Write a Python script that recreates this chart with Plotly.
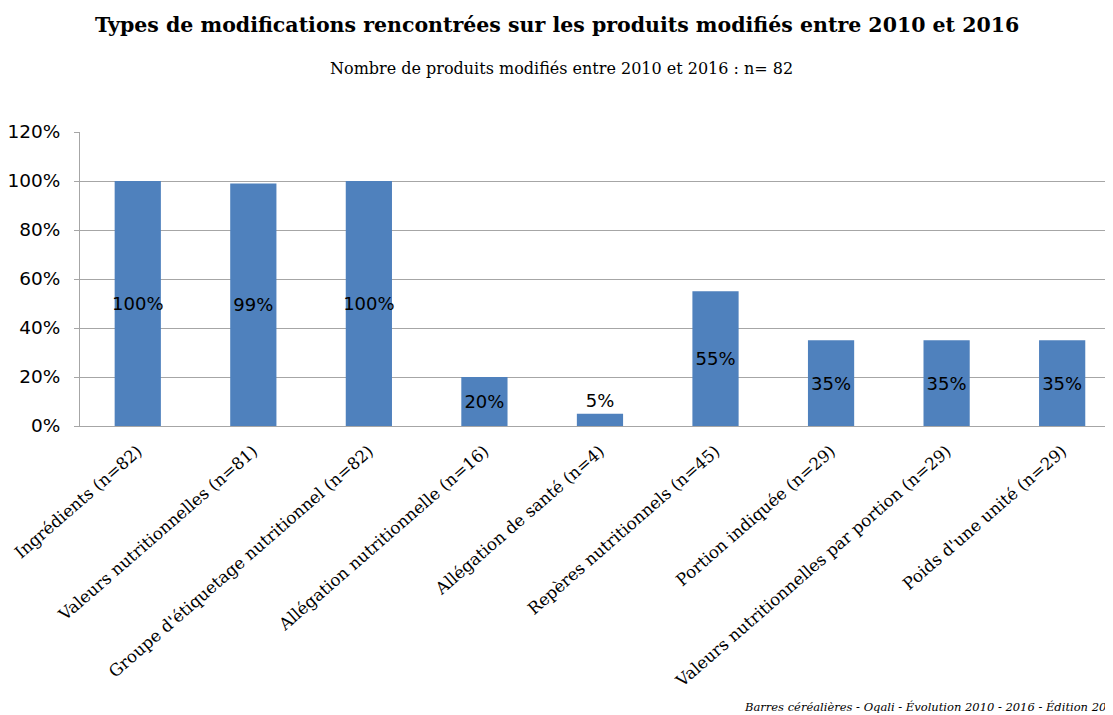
import plotly.graph_objects as go

categories = [
    "Ingrédients (n=82)",
    "Valeurs nutritionnelles (n=81)",
    "Groupe d'étiquetage nutritionnel (n=82)",
    "Allégation nutritionnelle (n=16)",
    "Allégation de santé (n=4)",
    "Repères nutritionnels (n=45)",
    "Portion indiquée (n=29)",
    "Valeurs nutritionnelles par portion (n=29)",
    "Poids d'une unité (n=29)",
]
values = [1.00, 0.99, 1.00, 0.20, 0.05, 0.55, 0.35, 0.35, 0.35]
labels = ["100%", "99%", "100%", "20%", "5%", "55%", "35%", "35%", "35%"]

title = "Types de modifications rencontrées sur les produits modifiés entre 2010 et 2016"
subtitle = "Nombre de produits modifiés entre 2010 et 2016 : n= 82"
footer = "Barres céréalières - Oqali - Évolution 2010 - 2016 - Édition 2018"

positions = ["outside" if v < 0.1 else "inside" for v in values]

fig = go.Figure(go.Bar(
    x=list(range(len(categories))),
    y=values,
    width=0.4,
    marker=dict(color="#4F81BD", line=dict(width=0)),
    text=labels,
    textposition=positions,
    insidetextanchor="middle",
    textangle=0,
    textfont=dict(family="DejaVu Sans", size=18, color="#000000"),
    cliponaxis=False,
))

fig.update_layout(
    width=1105, height=707,
    paper_bgcolor="white", plot_bgcolor="white",
    margin=dict(l=72, r=0, t=124, b=289, autoexpand=False),
    showlegend=False,
    uniformtext=dict(minsize=18, mode="show"),
    annotations=[
        dict(text="<b>" + title + "</b>", xref="paper", yref="paper", x=0.5, y=1,
             xanchor="center", yanchor="middle", yshift=107, xshift=-40, showarrow=False,
             font=dict(family="DejaVu Serif", size=20.5, color="#000000")),
        dict(text=subtitle, xref="paper", yref="paper", x=0.5, y=1,
             xanchor="center", yanchor="middle", yshift=64, xshift=-35, showarrow=False,
             font=dict(family="DejaVu Serif", size=16, color="#000000")),
        dict(text="<i>" + footer + "</i>", xref="paper", yref="paper", x=0, y=0,
             xanchor="left", yanchor="middle", xshift=662, yshift=-281, showarrow=False,
             font=dict(family="DejaVu Serif", size=11.5, color="#000000")),
    ],
)

fig.update_xaxes(
    tickmode="array", tickvals=list(range(len(categories))), ticktext=categories,
    tickangle=-41, range=[-0.5, 8.44], automargin=False,
    showline=True, linecolor="#A6A6A6", linewidth=1,
    showgrid=False, ticks="outside", ticklen=8, tickcolor="rgba(0,0,0,0)",
    tickfont=dict(family="DejaVu Serif", size=16.7, color="#000000"),
)
fig.update_yaxes(
    range=[0, 1.2], dtick=0.2, tickformat=".0%", automargin=False,
    showline=True, linecolor="#A6A6A6", linewidth=1,
    showgrid=True, gridcolor="#A6A6A6", gridwidth=1,
    ticks="outside", ticklen=5, tickcolor="#A6A6A6",
    ticklabelstandoff=10,
    tickfont=dict(family="DejaVu Sans", size=18.5, color="#000000"),
    zeroline=False,
)

fig.write_html("out.html")
